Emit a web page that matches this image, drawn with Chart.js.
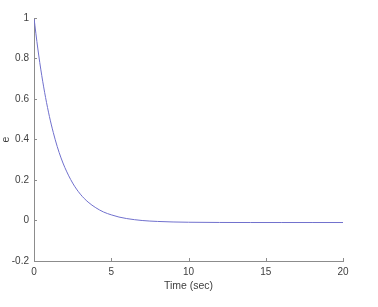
<!DOCTYPE html>
<html lang="en">
<head>
    <meta charset="UTF-8">
    <script src="https://cdn.jsdelivr.net/npm/chart.js"></script>
    <title>Error response</title>
    <style>
        body { margin: 0; background: #fff; }
        #wrap { width: 378px; height: 307px; }
    </style>
</head>
<body>
    <div id="wrap">
        <canvas id="errChart" width="378" height="307"></canvas>
    </div>

    <script>
        // values
        const timeSec = [0, 0.25, 0.5, 0.75, 1, 1.25, 1.5, 1.75, 2, 2.5, 3, 3.5, 4, 4.5, 5, 5.5, 6, 7, 8, 9, 10, 12, 14, 16, 18, 20];
        const errorVals = [1.0, 0.847, 0.717, 0.607, 0.513, 0.434, 0.366, 0.309, 0.261, 0.185, 0.130, 0.091, 0.063, 0.042, 0.028, 0.017, 0.0095, 0.0, -0.0047, -0.0073, -0.0086, -0.0097, -0.01, -0.01, -0.01, -0.01];
        const xTicks = [0, 5, 10, 15, 20];
        const yTicks = [-0.2, 0, 0.2, 0.4, 0.6, 0.8, 1];

        const axisColor = '#8c8c8c';
        const labelColor = '#404040';

        // small inward ticks like the matlab axes
        const inwardTicks = {
            id: 'inwardTicks',
            afterDraw(chart) {
                const ctx = chart.ctx;
                const xs = chart.scales.x, ys = chart.scales.y;
                const area = chart.chartArea;
                ctx.save();
                ctx.strokeStyle = axisColor;
                ctx.lineWidth = 1;
                ctx.beginPath();
                xTicks.forEach(v => {
                    const px = Math.round(xs.getPixelForValue(v)) + 0.5;
                    ctx.moveTo(px, area.bottom);
                    ctx.lineTo(px, area.bottom - 3);
                });
                yTicks.forEach(v => {
                    const py = Math.round(ys.getPixelForValue(v)) + 0.5;
                    ctx.moveTo(area.left, py);
                    ctx.lineTo(area.left + 3, py);
                });
                ctx.stroke();
                ctx.restore();
            }
        };

        const ctx = document.getElementById('errChart').getContext('2d');
        new Chart(ctx, {
            type: 'scatter',
            data: {
                datasets: [{
                    data: timeSec.map((t, i) => ({ x: t, y: errorVals[i] })),
                    showLine: true,
                    borderColor: 'rgb(112, 112, 205)',
                    borderWidth: 1,
                    pointRadius: 0,
                    cubicInterpolationMode: 'monotone'
                }]
            },
            options: {
                responsive: false,
                animation: false,
                layout: {
                    padding: { left: 0, right: 35, top: 18, bottom: 15 }
                },
                plugins: {
                    legend: { display: false },
                    tooltip: { enabled: false }
                },
                scales: {
                    x: {
                        type: 'linear',
                        min: 0,
                        max: 20,
                        afterBuildTicks: s => { s.ticks = xTicks.map(v => ({ value: v })); },
                        afterFit: s => { s.height = 31; },
                        grid: { drawOnChartArea: false, drawTicks: false },
                        border: { color: axisColor, width: 1 },
                        ticks: {
                            color: labelColor,
                            padding: 5,
                            maxRotation: 0,
                            font: { family: 'Liberation Sans', size: 10 }
                        },
                        title: {
                            display: true,
                            text: 'Time (sec)',
                            color: labelColor,
                            padding: { top: 1, bottom: 0 },
                            font: { family: 'Liberation Sans', size: 10.5 }
                        }
                    },
                    y: {
                        min: -0.2,
                        max: 1,
                        afterBuildTicks: s => { s.ticks = yTicks.map(v => ({ value: v })); },
                        afterFit: s => { s.width = 34; },
                        grid: { drawOnChartArea: false, drawTicks: false },
                        border: { color: axisColor, width: 1 },
                        ticks: {
                            color: labelColor,
                            padding: 5,
                            font: { family: 'Liberation Sans', size: 10 },
                            callback: v => String(Number(v.toFixed(1)))
                        },
                        title: {
                            display: true,
                            text: 'e',
                            color: labelColor,
                            padding: { top: 0, bottom: 0 },
                            font: { family: 'Liberation Sans', size: 10.5 }
                        }
                    }
                }
            },
            plugins: [inwardTicks]
        });
    </script>
</body>
</html>
